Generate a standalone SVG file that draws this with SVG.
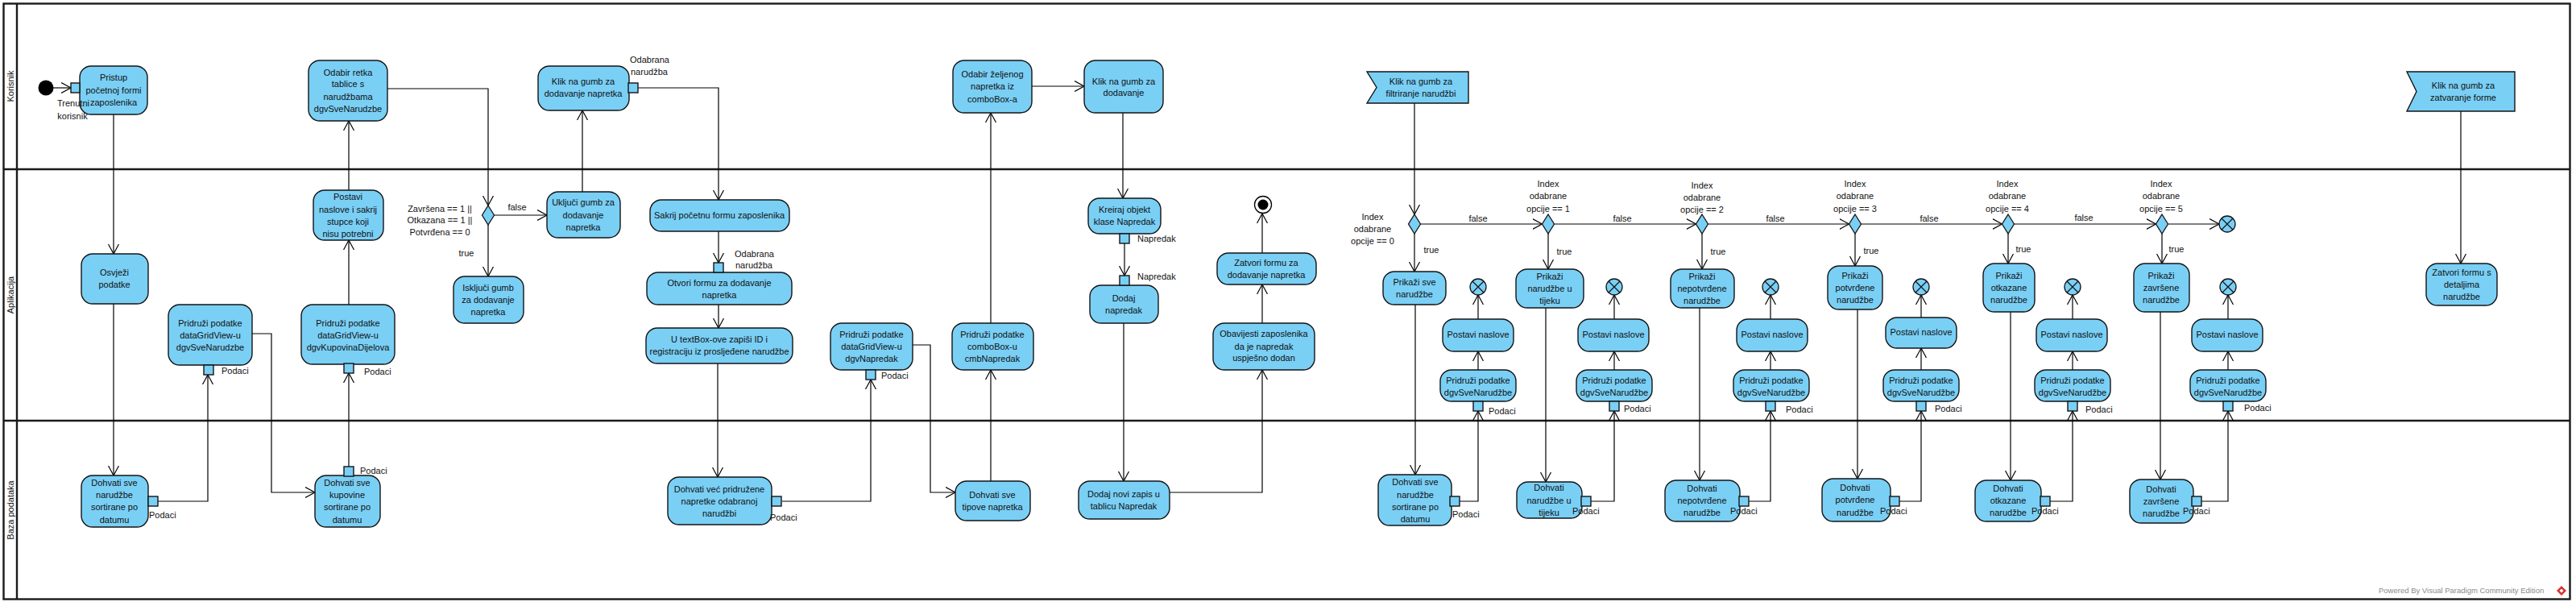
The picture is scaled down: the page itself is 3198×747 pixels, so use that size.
<svg xmlns="http://www.w3.org/2000/svg" width="3198" height="747" viewBox="0 0 3198 747">
<style>
text{font-family:"Liberation Sans",Arial,sans-serif;font-size:11px;fill:#111}
.c{text-anchor:middle}
.act rect,.act polygon{fill:#7ACFF5;stroke:#141414;stroke-width:1.4}
.pin{fill:#7ACFF5;stroke:#141414;stroke-width:1.3}
.ff circle{fill:#7ACFF5;stroke:#141414;stroke-width:1.3}
.ff path{stroke:#141414;stroke-width:1.2}
.dec{fill:#7ACFF5;stroke:#141414;stroke-width:1.3}
#connectors path{fill:none;stroke:#000;stroke-width:1.2;marker-end:url(#a)}
.lane{fill:none;stroke:#1a1a1a;stroke-width:2.4}
.lt{font-size:11px}
</style>
<defs>
<marker id="a" markerUnits="userSpaceOnUse" markerWidth="14" markerHeight="14" refX="12" refY="7" orient="auto"><path d="M0,0.5 L12,7 L0,13.5" fill="none" stroke="#000" stroke-width="1.2"/></marker>
</defs>
<rect x="0" y="0" width="3198" height="747" fill="#fff"/>
<g id="swimlanes">
<rect class="lane" x="4.5" y="4.5" width="3186" height="739"/>
<line class="lane" x1="21" y1="4.5" x2="21" y2="743.5"/>
<line class="lane" x1="4.5" y1="210" x2="3190.5" y2="210"/>
<line class="lane" x1="4.5" y1="522" x2="3190.5" y2="522"/>
<text class="c lt" transform="translate(16.5,107) rotate(-90)">Korisnik</text>
<text class="c lt" transform="translate(16.5,366) rotate(-90)">Aplikacija</text>
<text class="c lt" transform="translate(16.5,633) rotate(-90)">Baza podataka</text>
</g>
<g id="connectors">
<path d="M66,109 L88,109"/>
<path d="M141,142 L141,315"/>
<path d="M141,377 L141,590"/>
<path d="M196,622 L258,622 L258,465"/>
<path d="M313,414 L337,414 L337,611 L391,611"/>
<path d="M433,579 L433,463"/>
<path d="M433,378 L433,298"/>
<path d="M433,236 L433,150"/>
<path d="M481,110 L606,110 L606,255"/>
<path d="M613.5,267 L679,267"/>
<path d="M606,279 L606,343"/>
<path d="M723,238 L723,137"/>
<path d="M792,109 L892,109 L892,248"/>
<path d="M892,287 L892,326"/>
<path d="M892,378 L892,407"/>
<path d="M891,451 L891,592"/>
<path d="M971,622 L1081,622 L1081,471"/>
<path d="M1133,428 L1155,428 L1155,611 L1186,611"/>
<path d="M1230,597 L1230,459"/>
<path d="M1230,401 L1230,140"/>
<path d="M1281,107 L1346,107"/>
<path d="M1394,140 L1394,246"/>
<path d="M1396,302 L1396,342"/>
<path d="M1395,401 L1395,597"/>
<path d="M1452,611 L1567,611 L1567,459"/>
<path d="M1567,401 L1567,353"/>
<path d="M1567,314 L1567,265"/>
<path d="M1756,128 L1756,266"/>
<path d="M1763.5,278 L1914.5,278"/>
<path d="M1929.5,278 L2105.5,278"/>
<path d="M2120.5,278 L2295.5,278"/>
<path d="M2310.5,278 L2485.5,278"/>
<path d="M2500.5,278 L2676.5,278"/>
<path d="M2691.5,278 L2755,278"/>
<path d="M1756,290 L1756,337"/>
<path d="M1922,290 L1922,334"/>
<path d="M2113,290 L2113,334"/>
<path d="M2303,290 L2303,330"/>
<path d="M2493,290 L2493,327"/>
<path d="M2684,290 L2684,327"/>
<path d="M1757,378 L1757,589"/>
<path d="M1919,382 L1919,598"/>
<path d="M2110,382 L2110,596"/>
<path d="M2306,384 L2306,594"/>
<path d="M2496,387 L2496,596"/>
<path d="M2682,387 L2682,595"/>
<path d="M1812,622 L1835,622 L1835,510"/>
<path d="M1975,622 L2004,622 L2004,510"/>
<path d="M2171,622 L2198,622 L2198,510"/>
<path d="M2358,622 L2385,622 L2385,510"/>
<path d="M2545,622 L2573,622 L2573,510"/>
<path d="M2733,622 L2766,622 L2766,510"/>
<path d="M1835,459 L1835,436"/>
<path d="M2004,459 L2004,436"/>
<path d="M2198,459 L2198,436"/>
<path d="M2385,459 L2385,432"/>
<path d="M2573,459 L2573,436"/>
<path d="M2766,459 L2766,436"/>
<path d="M1835,396 L1835,366"/>
<path d="M2004,396 L2004,366"/>
<path d="M2198,396 L2198,366"/>
<path d="M2385,394 L2385,366"/>
<path d="M2573,396 L2573,366"/>
<path d="M2766,396 L2766,366"/>
<path d="M3055,138 L3055,327"/>
</g>
<g id="connector-labels">
<text class="c"><tspan x="546" y="263">Završena == 1 ||</tspan><tspan x="546" y="277">Otkazana == 1 ||</tspan><tspan x="546" y="292">Potvrđena == 0</tspan></text>
<text class="c" x="642" y="261">false</text>
<text class="c" x="579" y="318">true</text>
<text class="c"><tspan x="1704" y="273">Index</tspan><tspan x="1704" y="288">odabrane</tspan><tspan x="1704" y="303">opcije == 0</tspan></text>
<text class="c"><tspan x="1922" y="232">Index</tspan><tspan x="1922" y="247">odabrane</tspan><tspan x="1922" y="263">opcije == 1</tspan></text>
<text class="c"><tspan x="2113" y="234">Index</tspan><tspan x="2113" y="249">odabrane</tspan><tspan x="2113" y="264">opcije == 2</tspan></text>
<text class="c"><tspan x="2303" y="232">Index</tspan><tspan x="2303" y="247">odabrane</tspan><tspan x="2303" y="263">opcije == 3</tspan></text>
<text class="c"><tspan x="2492" y="232">Index</tspan><tspan x="2492" y="247">odabrane</tspan><tspan x="2492" y="263">opcije == 4</tspan></text>
<text class="c"><tspan x="2683" y="232">Index</tspan><tspan x="2683" y="247">odabrane</tspan><tspan x="2683" y="263">opcije == 5</tspan></text>
<text class="c" x="1835" y="275">false</text>
<text class="c" x="2014" y="275">false</text>
<text class="c" x="2204" y="275">false</text>
<text class="c" x="2395" y="275">false</text>
<text class="c" x="2587" y="274">false</text>
<text class="c" x="1777" y="314">true</text>
<text class="c" x="1942" y="316">true</text>
<text class="c" x="2133" y="316">true</text>
<text class="c" x="2323" y="315">true</text>
<text class="c" x="2512" y="313">true</text>
<text class="c" x="2702" y="313">true</text>
</g>
<g id="initial"><circle cx="57" cy="109" r="9.5" fill="#000"/></g>
<g id="n-pristup" class="act"><rect x="99" y="82" width="84" height="60" rx="14"/><rect class="pin" x="88" y="103" width="11" height="12"/><text class="c"><tspan x="141" y="100">Pristup</tspan><tspan x="141" y="116">početnoj formi</tspan><tspan x="141" y="131">zaposlenika</tspan></text><text class="c"><tspan x="91" y="132">Trenutni</tspan><tspan x="90" y="148">korisnik</tspan></text></g>
<g id="n-osvjezi" class="act"><rect x="101" y="315" width="83" height="62" rx="14"/><text class="c"><tspan x="142" y="342">Osvježi</tspan><tspan x="142" y="357">podatke</tspan></text></g>
<g id="n-dohvati-narudzbe" class="act"><rect x="101" y="590" width="83" height="64" rx="14"/><rect class="pin" x="184" y="616" width="12" height="12"/><text class="c"><tspan x="142" y="603">Dohvati sve</tspan><tspan x="142" y="618">narudžbe</tspan><tspan x="142" y="633">sortirane po</tspan><tspan x="142" y="649">datumu</tspan></text><text x="185" y="643">Podaci</text></g>
<g id="n-pridruzi-sve" class="act"><rect x="209" y="378" width="104" height="75" rx="14"/><rect class="pin" x="253" y="453" width="12" height="12"/><text class="c"><tspan x="261" y="405">Pridruži podatke</tspan><tspan x="261" y="420">dataGridView-u</tspan><tspan x="261" y="435">dgvSveNarudzbe</tspan></text><text x="275" y="464">Podaci</text></g>
<g id="n-dohvati-kupovine" class="act"><rect x="391" y="590" width="81" height="64" rx="14"/><rect class="pin" x="427" y="579" width="12" height="12"/><text class="c"><tspan x="431" y="603">Dohvati sve</tspan><tspan x="431" y="618">kupovine</tspan><tspan x="431" y="633">sortirane po</tspan><tspan x="431" y="649">datumu</tspan></text><text x="447" y="588">Podaci</text></g>
<g id="n-pridruzi-kupovina" class="act"><rect x="374" y="378" width="116" height="74" rx="14"/><rect class="pin" x="427" y="451" width="12" height="12"/><text class="c"><tspan x="432" y="405">Pridruži podatke</tspan><tspan x="432" y="420">dataGridView-u</tspan><tspan x="432" y="435">dgvKupovinaDijelova</tspan></text><text x="452" y="465">Podaci</text></g>
<g id="n-postavi-sakrij" class="act"><rect x="389" y="236" width="87" height="62" rx="14"/><text class="c"><tspan x="432" y="248">Postavi</tspan><tspan x="432" y="264">naslove i sakrij</tspan><tspan x="432" y="279">stupce koji</tspan><tspan x="432" y="294">nisu potrebni</tspan></text></g>
<g id="n-odabir-retka" class="act"><rect x="383" y="75" width="98" height="75" rx="14"/><text class="c"><tspan x="432" y="94">Odabir retka</tspan><tspan x="432" y="108">tablice s</tspan><tspan x="432" y="124">narudžbama</tspan><tspan x="432" y="139">dgvSveNarudzbe</tspan></text></g>
<g id="d-status"><polygon class="dec" points="606,255 613.5,267 606,279 598.5,267"/></g>
<g id="n-ukljuci" class="act"><rect x="679" y="238" width="91" height="57" rx="14"/><text class="c"><tspan x="724" y="255">Uključi gumb za</tspan><tspan x="724" y="271">dodavanje</tspan><tspan x="724" y="286">napretka</tspan></text></g>
<g id="n-iskljuci" class="act"><rect x="563" y="343" width="87" height="58" rx="14"/><text class="c"><tspan x="606" y="361">Isključi gumb</tspan><tspan x="606" y="376">za dodavanje</tspan><tspan x="606" y="391">napretka</tspan></text></g>
<g id="n-klik-napredak" class="act"><rect x="668" y="82" width="113" height="55" rx="14"/><rect class="pin" x="780" y="103" width="12" height="12"/><text class="c"><tspan x="724" y="105">Klik na gumb za</tspan><tspan x="724" y="120">dodavanje napretka</tspan></text><text><tspan x="782" y="78">Odabrana</tspan><tspan x="783" y="93">narudžba</tspan></text></g>
<g id="n-sakrij" class="act"><rect x="807" y="248" width="173" height="39" rx="14"/><text class="c" x="893" y="271">Sakrij početnu formu zaposlenika</text></g>
<g id="n-otvori" class="act"><rect x="803" y="338" width="180" height="40" rx="14"/><rect class="pin" x="886" y="326" width="12" height="12"/><text class="c"><tspan x="893" y="355">Otvori formu za dodavanje</tspan><tspan x="893" y="370">napretka</tspan></text><text><tspan x="912" y="319">Odabrana</tspan><tspan x="913" y="333">narudžba</tspan></text></g>
<g id="n-textbox" class="act"><rect x="802" y="407" width="182" height="44" rx="14"/><text class="c"><tspan x="893" y="425">U textBox-ove zapiši ID i</tspan><tspan x="893" y="440">registraciju iz prosljeđene narudžbe</tspan></text></g>
<g id="n-dohvati-napretke" class="act"><rect x="829" y="592" width="129" height="59" rx="14"/><rect class="pin" x="958" y="616" width="12" height="12"/><text class="c"><tspan x="893" y="611">Dohvati već pridružene</tspan><tspan x="893" y="626">napretke odabranoj</tspan><tspan x="893" y="641">narudžbi</tspan></text><text x="956" y="646">Podaci</text></g>
<g id="n-pridruzi-napredak" class="act"><rect x="1031" y="401" width="102" height="58" rx="14"/><rect class="pin" x="1075" y="459" width="12" height="12"/><text class="c"><tspan x="1082" y="419">Pridruži podatke</tspan><tspan x="1082" y="434">dataGridView-u</tspan><tspan x="1082" y="449">dgvNapredak</tspan></text><text x="1094" y="470">Podaci</text></g>
<g id="n-dohvati-tipove" class="act"><rect x="1186" y="597" width="93" height="49" rx="14"/><text class="c"><tspan x="1232" y="618">Dohvati sve</tspan><tspan x="1232" y="633">tipove napretka</tspan></text></g>
<g id="n-pridruzi-combo" class="act"><rect x="1182" y="401" width="101" height="58" rx="14"/><text class="c"><tspan x="1232" y="419">Pridruži podatke</tspan><tspan x="1232" y="434">comboBox-u</tspan><tspan x="1232" y="449">cmbNapredak</tspan></text></g>
<g id="n-odabir-napretka" class="act"><rect x="1183" y="75" width="98" height="65" rx="14"/><text class="c"><tspan x="1232" y="96">Odabir željenog</tspan><tspan x="1232" y="111">napretka iz</tspan><tspan x="1232" y="127">comboBox-a</tspan></text></g>
<g id="n-klik-dodavanje" class="act"><rect x="1346" y="75" width="98" height="65" rx="14"/><text class="c"><tspan x="1395" y="105">Klik na gumb za</tspan><tspan x="1395" y="119">dodavanje</tspan></text></g>
<g id="n-kreiraj" class="act"><rect x="1351" y="246" width="90" height="44" rx="14"/><rect class="pin" x="1390" y="290" width="12" height="12"/><text class="c"><tspan x="1396" y="264">Kreiraj objekt</tspan><tspan x="1396" y="279">klase Napredak</tspan></text><text x="1412" y="300">Napredak</text></g>
<g id="n-dodaj-napredak" class="act"><rect x="1353" y="354" width="85" height="47" rx="14"/><rect class="pin" x="1390" y="342" width="12" height="12"/><text class="c"><tspan x="1395" y="374">Dodaj</tspan><tspan x="1395" y="389">napredak</tspan></text><text x="1412" y="347">Napredak</text></g>
<g id="n-dodaj-zapis" class="act"><rect x="1339" y="597" width="113" height="47" rx="14"/><text class="c"><tspan x="1395" y="617">Dodaj novi zapis u</tspan><tspan x="1395" y="632">tablicu Napredak</tspan></text></g>
<g id="n-obavijesti" class="act"><rect x="1506" y="401" width="126" height="58" rx="14"/><text class="c"><tspan x="1569" y="418">Obavijesti zaposlenika</tspan><tspan x="1569" y="434">da je napredak</tspan><tspan x="1569" y="448">uspješno dodan</tspan></text></g>
<g id="n-zatvori-napredak" class="act"><rect x="1511" y="314" width="123" height="39" rx="14"/><text class="c"><tspan x="1572" y="330">Zatvori formu za</tspan><tspan x="1572" y="345">dodavanje napretka</tspan></text></g>
<g id="final"><circle cx="1568" cy="254" r="10.5" fill="#fff" stroke="#000" stroke-width="1.3"/><circle cx="1568" cy="254" r="6.5" fill="#000"/></g>
<g id="e-filtriranje" class="act"><polygon points="1697,89 1823,89 1823,128 1697,128 1709,108.5"/><text class="c"><tspan x="1764" y="105">Klik na gumb za</tspan><tspan x="1764" y="120">filtriranje narudžbi</tspan></text></g>
<g id="decisions">
<polygon class="dec" points="1756,266 1763.5,278 1756,290 1748.5,278"/>
<polygon class="dec" points="1922,266 1929.5,278 1922,290 1914.5,278"/>
<polygon class="dec" points="2113,266 2120.5,278 2113,290 2105.5,278"/>
<polygon class="dec" points="2303,266 2310.5,278 2303,290 2295.5,278"/>
<polygon class="dec" points="2493,266 2500.5,278 2493,290 2485.5,278"/>
<polygon class="dec" points="2684,266 2691.5,278 2684,290 2676.5,278"/>
</g>
<g id="ff-end" class="ff"><circle cx="2765" cy="278" r="10"/><path d="M2758,271 L2772,285 M2772,271 L2758,285"/></g>
<g id="n-prikazi-0" class="act"><rect x="1717" y="337" width="78" height="41" rx="14"/><text class="c"><tspan x="1756" y="354">Prikaži sve</tspan><tspan x="1756" y="369">narudžbe</tspan></text></g>
<g id="n-prikazi-1" class="act"><rect x="1882" y="334" width="84" height="48" rx="14"/><text class="c"><tspan x="1924" y="347">Prikaži</tspan><tspan x="1924" y="362">narudžbe u</tspan><tspan x="1924" y="377">tijeku</tspan></text></g>
<g id="n-prikazi-2" class="act"><rect x="2074" y="334" width="79" height="48" rx="14"/><text class="c"><tspan x="2113" y="347">Prikaži</tspan><tspan x="2113" y="362">nepotvrđene</tspan><tspan x="2113" y="377">narudžbe</tspan></text></g>
<g id="n-prikazi-3" class="act"><rect x="2269" y="330" width="68" height="54" rx="14"/><text class="c"><tspan x="2303" y="346">Prikaži</tspan><tspan x="2303" y="361">potvrđene</tspan><tspan x="2303" y="376">narudžbe</tspan></text></g>
<g id="n-prikazi-4" class="act"><rect x="2462" y="327" width="64" height="60" rx="14"/><text class="c"><tspan x="2494" y="346">Prikaži</tspan><tspan x="2494" y="361">otkazane</tspan><tspan x="2494" y="376">narudžbe</tspan></text></g>
<g id="n-prikazi-5" class="act"><rect x="2649" y="327" width="69" height="60" rx="14"/><text class="c"><tspan x="2683" y="346">Prikaži</tspan><tspan x="2683" y="361">završene</tspan><tspan x="2683" y="376">narudžbe</tspan></text></g>
<g id="n-dohvati-0" class="act"><rect x="1711" y="589" width="91" height="63" rx="14"/><rect class="pin" x="1800" y="616" width="12" height="12"/><text class="c"><tspan x="1757" y="602">Dohvati sve</tspan><tspan x="1757" y="618">narudžbe</tspan><tspan x="1757" y="633">sortirane po</tspan><tspan x="1757" y="648">datumu</tspan></text><text x="1803" y="642">Podaci</text></g>
<g id="n-dohvati-1" class="act"><rect x="1883" y="598" width="81" height="45" rx="14"/><rect class="pin" x="1963" y="616" width="12" height="12"/><text class="c"><tspan x="1923" y="609">Dohvati</tspan><tspan x="1923" y="625">narudžbe u</tspan><tspan x="1923" y="640">tijeku</tspan></text><text x="1952" y="638">Podaci</text></g>
<g id="n-dohvati-2" class="act"><rect x="2067" y="596" width="93" height="51" rx="14"/><rect class="pin" x="2159" y="616" width="12" height="12"/><text class="c"><tspan x="2113" y="610">Dohvati</tspan><tspan x="2113" y="625">nepotvrđene</tspan><tspan x="2113" y="640">narudžbe</tspan></text><text x="2148" y="638">Podaci</text></g>
<g id="n-dohvati-3" class="act"><rect x="2262" y="594" width="85" height="53" rx="14"/><rect class="pin" x="2346" y="616" width="12" height="12"/><text class="c"><tspan x="2303" y="609">Dohvati</tspan><tspan x="2303" y="624">potvrđene</tspan><tspan x="2303" y="640">narudžbe</tspan></text><text x="2334" y="638">Podaci</text></g>
<g id="n-dohvati-4" class="act"><rect x="2452" y="596" width="82" height="51" rx="14"/><rect class="pin" x="2533" y="616" width="12" height="12"/><text class="c"><tspan x="2493" y="610">Dohvati</tspan><tspan x="2493" y="625">otkazane</tspan><tspan x="2493" y="640">narudžbe</tspan></text><text x="2522" y="638">Podaci</text></g>
<g id="n-dohvati-5" class="act"><rect x="2644" y="595" width="79" height="54" rx="14"/><rect class="pin" x="2721" y="616" width="12" height="12"/><text class="c"><tspan x="2683" y="611">Dohvati</tspan><tspan x="2683" y="626">završene</tspan><tspan x="2683" y="641">narudžbe</tspan></text><text x="2710" y="638">Podaci</text></g>
<g id="n-pridruzi-0" class="act"><rect x="1788" y="459" width="94" height="39" rx="14"/><rect class="pin" x="1829" y="498" width="12" height="12"/><text class="c"><tspan x="1835" y="476">Pridruži podatke</tspan><tspan x="1835" y="491">dgvSveNarudžbe</tspan></text><text x="1848" y="514">Podaci</text></g>
<g id="n-pridruzi-1" class="act"><rect x="1957" y="459" width="94" height="39" rx="14"/><rect class="pin" x="1998" y="498" width="12" height="12"/><text class="c"><tspan x="2004" y="476">Pridruži podatke</tspan><tspan x="2004" y="491">dgvSveNarudžbe</tspan></text><text x="2016" y="511">Podaci</text></g>
<g id="n-pridruzi-2" class="act"><rect x="2152" y="459" width="94" height="39" rx="14"/><rect class="pin" x="2192" y="498" width="12" height="12"/><text class="c"><tspan x="2199" y="476">Pridruži podatke</tspan><tspan x="2199" y="491">dgvSveNarudžbe</tspan></text><text x="2217" y="512">Podaci</text></g>
<g id="n-pridruzi-3" class="act"><rect x="2338" y="459" width="94" height="39" rx="14"/><rect class="pin" x="2379" y="498" width="12" height="12"/><text class="c"><tspan x="2385" y="476">Pridruži podatke</tspan><tspan x="2385" y="491">dgvSveNarudžbe</tspan></text><text x="2402" y="511">Podaci</text></g>
<g id="n-pridruzi-4" class="act"><rect x="2526" y="459" width="94" height="39" rx="14"/><rect class="pin" x="2567" y="498" width="12" height="12"/><text class="c"><tspan x="2573" y="476">Pridruži podatke</tspan><tspan x="2573" y="491">dgvSveNarudžbe</tspan></text><text x="2589" y="512">Podaci</text></g>
<g id="n-pridruzi-5" class="act"><rect x="2719" y="459" width="94" height="39" rx="14"/><rect class="pin" x="2760" y="498" width="12" height="12"/><text class="c"><tspan x="2766" y="476">Pridruži podatke</tspan><tspan x="2766" y="491">dgvSveNarudžbe</tspan></text><text x="2786" y="510">Podaci</text></g>
<g id="n-postavi-0" class="act"><rect x="1791" y="396" width="88" height="40" rx="14"/><text class="c" x="1835" y="419">Postavi naslove</text></g>
<g id="n-postavi-1" class="act"><rect x="1959" y="396" width="88" height="40" rx="14"/><text class="c" x="2003" y="419">Postavi naslove</text></g>
<g id="n-postavi-2" class="act"><rect x="2156" y="396" width="88" height="40" rx="14"/><text class="c" x="2200" y="419">Postavi naslove</text></g>
<g id="n-postavi-3" class="act"><rect x="2341" y="394" width="88" height="38" rx="14"/><text class="c" x="2385" y="416">Postavi naslove</text></g>
<g id="n-postavi-4" class="act"><rect x="2528" y="396" width="88" height="40" rx="14"/><text class="c" x="2572" y="419">Postavi naslove</text></g>
<g id="n-postavi-5" class="act"><rect x="2721" y="396" width="88" height="40" rx="14"/><text class="c" x="2765" y="419">Postavi naslove</text></g>
<g id="flow-finals" class="ff">
<circle cx="1835" cy="356" r="10"/><path d="M1828,349 L1842,363 M1842,349 L1828,363"/>
<circle cx="2004" cy="356" r="10"/><path d="M1997,349 L2011,363 M2011,349 L1997,363"/>
<circle cx="2198" cy="356" r="10"/><path d="M2191,349 L2205,363 M2205,349 L2191,363"/>
<circle cx="2385" cy="356" r="10"/><path d="M2378,349 L2392,363 M2392,349 L2378,363"/>
<circle cx="2573" cy="356" r="10"/><path d="M2566,349 L2580,363 M2580,349 L2566,363"/>
<circle cx="2766" cy="356" r="10"/><path d="M2759,349 L2773,363 M2773,349 L2759,363"/>
</g>
<g id="e-zatvaranje" class="act"><polygon points="2988,89 3122,89 3122,138 2988,138 3000,113.5"/><text class="c"><tspan x="3058" y="110">Klik na gumb za</tspan><tspan x="3058" y="125">zatvaranje forme</tspan></text></g>
<g id="n-zatvori-detalji" class="act"><rect x="3012" y="327" width="88" height="52" rx="14"/><text class="c"><tspan x="3056" y="342">Zatvori formu s</tspan><tspan x="3056" y="357">detaljima</tspan><tspan x="3056" y="372">narudžbe</tspan></text></g>
<g id="watermark"><text x="2953" y="736" style="font-size:9.5px;fill:#8a8a8a">Powered By Visual Paradigm Community Edition</text><polygon points="3180,727 3186,733 3180,739 3174,733" fill="#d9302a"/><polygon points="3180,730.5 3182.5,733 3180,735.5 3177.5,733" fill="#fff"/></g>
</svg>
